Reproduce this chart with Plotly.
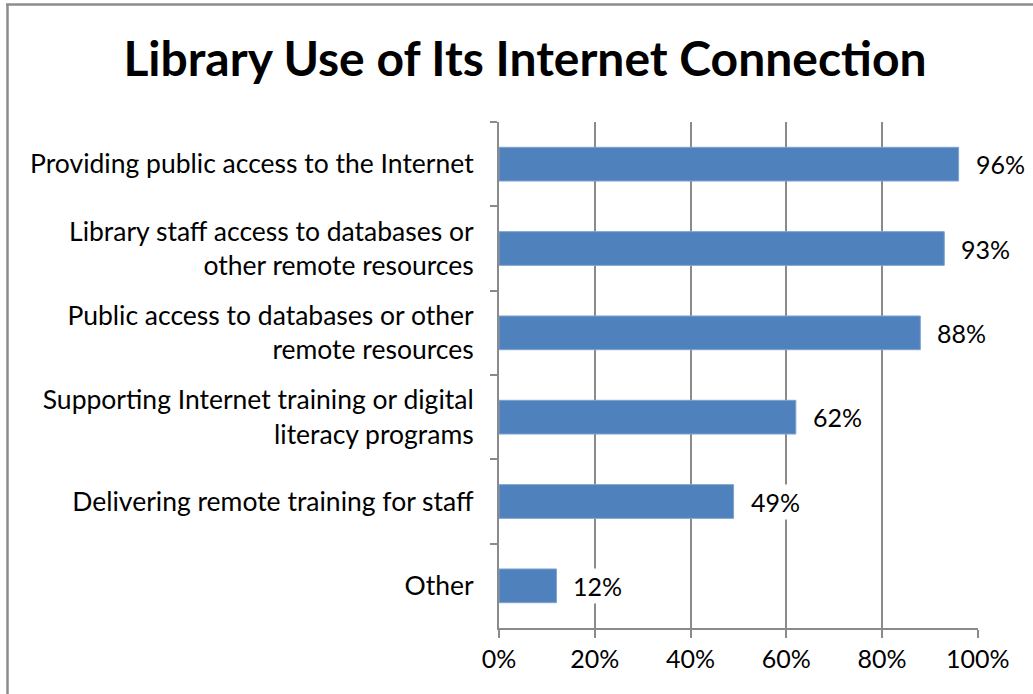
import plotly.graph_objects as go

categories = [
    "Providing public access to the Internet",
    "Library staff access to databases or<br>other remote resources",
    "Public access to databases or other<br>remote resources",
    "Supporting Internet training or digital<br>literacy programs",
    "Delivering remote training for staff",
    "Other",
]
values = [0.96, 0.93, 0.88, 0.62, 0.49, 0.12]
value_labels = ["96%", "93%", "88%", "62%", "49%", "12%"]
x_ticks = [0, 0.2, 0.4, 0.6, 0.8, 1.0]
x_tick_labels = ["0%", "20%", "40%", "60%", "80%", "100%"]

FONT = "Lato, 'Open Sans', sans-serif"
GRID = "#8a8a8a"
W, H = 1033, 694
L, R, T, B = 499, 55, 122, 66

fig = go.Figure()
fig.add_trace(go.Bar(
    y=categories, x=values, orientation="h",
    marker=dict(color="#4F81BD", line=dict(color="#7EA3D1", width=1)),
    hoverinfo="skip",
))

annotations = []
for c, v, t in zip(categories, values, value_labels):
    annotations.append(dict(
        x=v, y=c, xref="x", yref="y", text=t, showarrow=False,
        xanchor="left", yanchor="middle", xshift=14,
        bgcolor="white", borderpad=2,
        font=dict(family=FONT, size=25, color="#000000"),
    ))

pw = W - L - R
ph = H - T - B
def px_x(p):
    return (p - L) / pw
def px_y(p):
    return 1 - (p - T) / ph

shapes = [
    dict(type="line", xref="paper", yref="paper",
         x0=px_x(7.5), x1=px_x(7.5), y0=px_y(4), y1=px_y(700),
         line=dict(color="#8c8c8c", width=2.5)),
    dict(type="line", xref="paper", yref="paper",
         x0=px_x(6), x1=px_x(1040), y0=px_y(4.5), y1=px_y(4.5),
         line=dict(color="#8c8c8c", width=2.5)),
]

fig.update_layout(
    width=W, height=H,
    margin=dict(l=L, r=R, t=T, b=B),
    paper_bgcolor="white", plot_bgcolor="white",
    bargap=0.6,
    showlegend=False,
    title=dict(
        text="<b>Library Use of Its Internet Connection</b>",
        x=525 / W, xref="container", xanchor="center",
        y=1 - 59 / H, yref="container", yanchor="middle",
        font=dict(family=FONT, size=48, color="#000000"),
    ),
    xaxis=dict(
        range=[0, 1.0005],
        tickvals=x_ticks, ticktext=x_tick_labels,
        showgrid=True, gridcolor=GRID, gridwidth=2,
        showline=True, linecolor=GRID, linewidth=2,
        ticks="outside", ticklen=8, tickcolor=GRID, tickwidth=2,
        tickfont=dict(family=FONT, size=25, color="#000000"),
        zeroline=False, fixedrange=True,
    ),
    yaxis=dict(
        categoryorder="array", categoryarray=categories,
        autorange="reversed",
        showline=True, linecolor=GRID, linewidth=2,
        ticks="outside", ticklen=7, tickcolor=GRID, tickwidth=2,
        tickson="boundaries",
        ticklabelstandoff=18,
        tickfont=dict(family=FONT, size=26.5, color="#000000"),
        showgrid=False, zeroline=False, fixedrange=True,
    ),
    annotations=annotations,
    shapes=shapes,
)

fig.write_html(
    "out.html",
    config={"displayModeBar": False},
    post_script="document.body.style.margin='0';document.body.style.padding='0';",
)
